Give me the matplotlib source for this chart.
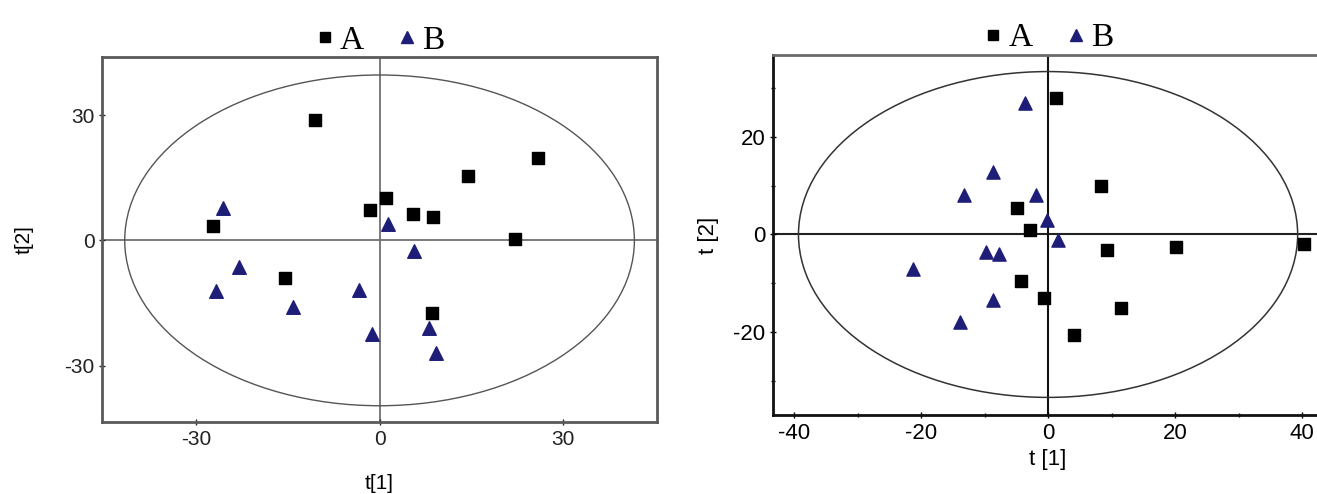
import matplotlib.pyplot as plt
from matplotlib.patches import Ellipse
from matplotlib.lines import Line2D
from matplotlib.ticker import MultipleLocator

# left panel scores
left_a_x = [-10.6, 25.9, 14.4, 1.0, -1.6, 5.4, 8.8, 22.1, -27.2, -15.4, 8.5]
left_a_y = [28.8, 19.7, 15.5, 10.2, 7.3, 6.2, 5.6, 0.4, 3.4, -8.9, -17.4]
left_b_x = [-25.5, 1.4, 5.7, -22.9, -26.7, -14.2, -3.3, -1.2, 8.0, 9.2]
left_b_y = [7.7, 3.8, -2.6, -6.4, -12.1, -15.9, -11.9, -22.5, -21.0, -26.9]

# right panel scores
right_a_x = [1.2, 8.3, -4.9, -2.9, 9.3, 20.1, 40.3, -4.3, -0.7, 11.5, 4.1]
right_a_y = [27.9, 10.0, 5.4, 1.0, -3.2, -2.6, -2.0, -9.6, -13.0, -15.0, -20.6]
right_b_x = [-3.6, -8.7, -13.2, -1.9, -0.2, 1.5, -9.8, -7.7, -21.2, -8.7, -13.8]
right_b_y = [27.0, 12.8, 8.1, 8.1, 3.0, -1.2, -3.5, -4.1, -7.1, -13.5, -17.9]

left_ticks = [-30, 0, 30]
right_xticks = [-40, -20, 0, 20, 40]
right_yticks = [-20, 0, 20]

plt.rcParams['axes.unicode_minus'] = False
navy = '#1e1e78'
sans = ['Liberation Sans', 'DejaVu Sans']

fig = plt.figure(figsize=(13.17, 4.94), dpi=100)

# ---- left panel
ax1 = fig.add_axes([0.0775, 0.1457, 0.4214, 0.738])
ax1.set_xlim(-45.3, 45.3)
ax1.set_ylim(-43.5, 43.8)
ax1.axhline(0, color='#707070', lw=1.3, zorder=1)
ax1.axvline(0, color='#707070', lw=1.3, zorder=1)
ax1.add_patch(Ellipse((0, 0), 2 * 41.6, 2 * 39.6, fill=False, ec='#555555', lw=1.0, zorder=1))
ax1.scatter(left_a_x, left_a_y, marker='s', s=80, c='black', zorder=3)
ax1.scatter(left_b_x, left_b_y, marker='^', s=95, c=navy, zorder=3)
for sp in ax1.spines.values():
    sp.set_color('#5a5a5a')
    sp.set_linewidth(2)
ax1.set_xticks(left_ticks)
ax1.set_yticks(left_ticks)
ax1.tick_params(direction='inout', length=4, width=1, colors='#222222', labelsize=15)
for lab in ax1.get_xticklabels() + ax1.get_yticklabels():
    lab.set_family(sans)
ax1.set_xlabel('t[1]', fontsize=15, family=sans, labelpad=18)
ax1.set_ylabel('t[2]', fontsize=15, family=sans, labelpad=22)

# ---- right panel
ax2 = fig.add_axes([0.587, 0.16, 0.4176, 0.7287])
ax2.set_xlim(-43.3, 43.3)
ax2.set_ylim(-37.0, 36.8)
ax2.axhline(0, color='#222222', lw=1.5, zorder=1)
ax2.axvline(0, color='#111111', lw=1.5, zorder=1)
ax2.add_patch(Ellipse((0, 0), 2 * 39.3, 2 * 33.4, fill=False, ec='#333333', lw=1.1, zorder=1))
ax2.scatter(right_a_x, right_a_y, marker='s', s=75, c='black', zorder=3)
ax2.scatter(right_b_x, right_b_y, marker='^', s=90, c=navy, zorder=3)
for sp in ax2.spines.values():
    sp.set_color('#111111')
    sp.set_linewidth(2)
ax2.spines['top'].set_color('#6a6a6a')
ax2.set_xticks(right_xticks)
ax2.set_yticks(right_yticks)
ax2.xaxis.set_minor_locator(MultipleLocator(10))
ax2.yaxis.set_minor_locator(MultipleLocator(10))
ax2.tick_params(direction='inout', length=4, width=1, labelsize=16)
ax2.tick_params(which='minor', direction='inout', length=3, width=1)
for lab in ax2.get_xticklabels() + ax2.get_yticklabels():
    lab.set_family(sans)
ax2.set_xlabel('t [1]', fontsize=16, family=sans, labelpad=4)
ax2.set_ylabel('t [2]', fontsize=16, family=sans, labelpad=10)

# legends above each panel
handles = [Line2D([], [], marker='s', ls='', color='black', markersize=7),
           Line2D([], [], marker='^', ls='', color=navy, markersize=8)]
for ax in (ax1, ax2):
    ax.legend(handles, ['A', 'B'], loc='lower center', bbox_to_anchor=(0.5, 0.968),
              ncol=2, frameon=False, handlelength=0.6, handletextpad=0.15,
              columnspacing=1.0, borderaxespad=0.0,
              prop={'family': ['Liberation Serif', 'DejaVu Serif'], 'size': 24})

fig.savefig('out.png', dpi=100)
